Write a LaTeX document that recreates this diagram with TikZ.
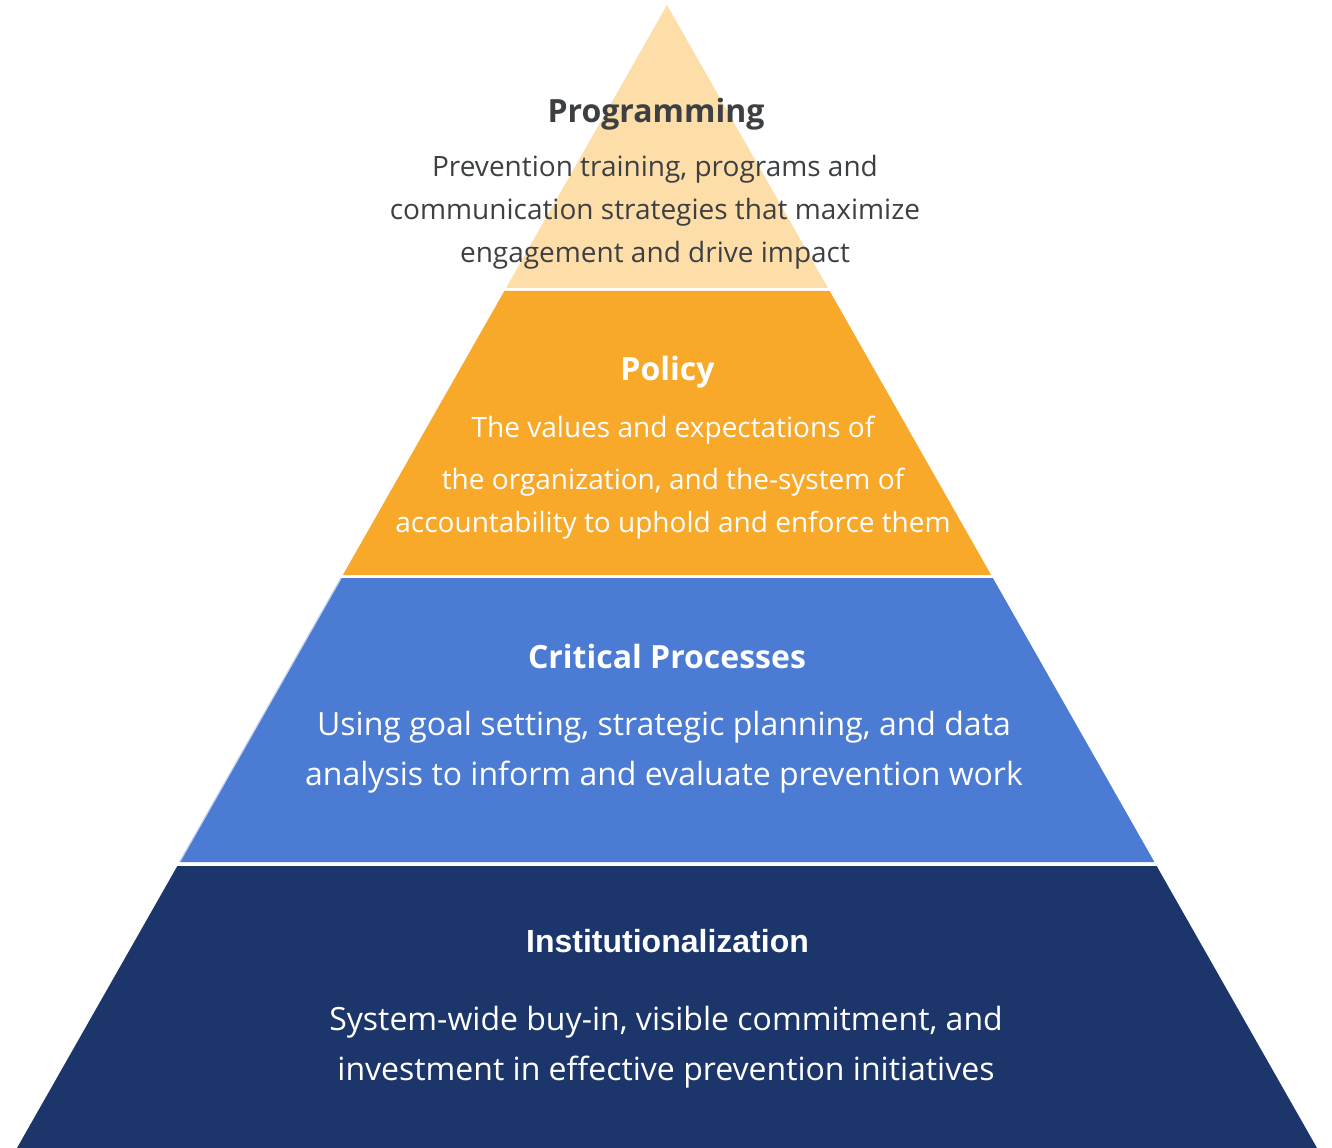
\documentclass[tikz,border=0pt]{standalone}
\usepackage{fontspec}
\setmainfont{Open Sans}
\newfontfamily\instfont{Liberation Sans}
\usepackage{xcolor}

\begin{document}
\begin{tikzpicture}[x=0.75pt,y=-0.75pt,
  ttl/.style={anchor=base,inner sep=0pt,font=\fontsize{24}{28}\selectfont\bfseries},
  txt/.style={anchor=base,inner sep=0pt,align=center,font=\fontsize{21}{32.25}\selectfont},
  bigtxt/.style={anchor=base,inner sep=0pt,align=center,font=\fontsize{24}{37.5}\selectfont}]
\definecolor{peach}{HTML}{FDDEA9}
\definecolor{amber}{HTML}{F8A92A}
\definecolor{cornflower}{HTML}{4B7BD2}
\definecolor{navy}{HTML}{1C366B}
\definecolor{ink}{HTML}{3D4043}
\useasboundingbox (0,0) rectangle (1332,1148);
% layers of the pyramid, apex at (667,5)
  \foreach \ytop/\ybot/\clr in {5/288/peach,291/575/amber,578/862/cornflower,866/1148/navy}
  {  \fill[\clr] ({667-0.5687*(\ytop-5)},\ytop) -- ({667+0.5687*(\ytop-5)},\ytop)
        -- ({667+0.5687*(\ybot-5)},\ybot) -- ({667-0.5687*(\ybot-5)},\ybot) -- cycle;}
\draw[cornflower!35!white,line width=0.9pt] ({667-0.5687*573},578) -- ({667-0.5687*857},862);
% texts, the base of a block is its last line
\node[ttl,text=ink] (prog) at (656,123) {Programming};
\node[txt,text=ink] (progtxt) at (655,263) {Prevention training, programs and\\communication strategies that maximize\\engagement and drive impact};
\node[ttl,text=white] (policy) at (667.5,380) {Policy};
\node[txt,text=white] (policytxt) at (673,532) {The values and expectations of\\[6.75pt]the organization, and the-system of\\accountability to uphold and enforce them};
\node[ttl,text=white] (crit) at (667,668) {Critical Processes};
\node[bigtxt,text=white] (crittxt) at (664,785) {Using goal setting, strategic planning, and data\\analysis to inform and evaluate prevention work};
\node[ttl,text=white,font=\fontsize{24}{28}\selectfont\instfont\bfseries] (inst) at (667.5,952) {Institutionalization};
\node[bigtxt,text=white] (insttxt) at (666,1080) {System-wide buy-in, visible commitment, and\\investment in effective prevention initiatives};
\end{tikzpicture}
\end{document}
